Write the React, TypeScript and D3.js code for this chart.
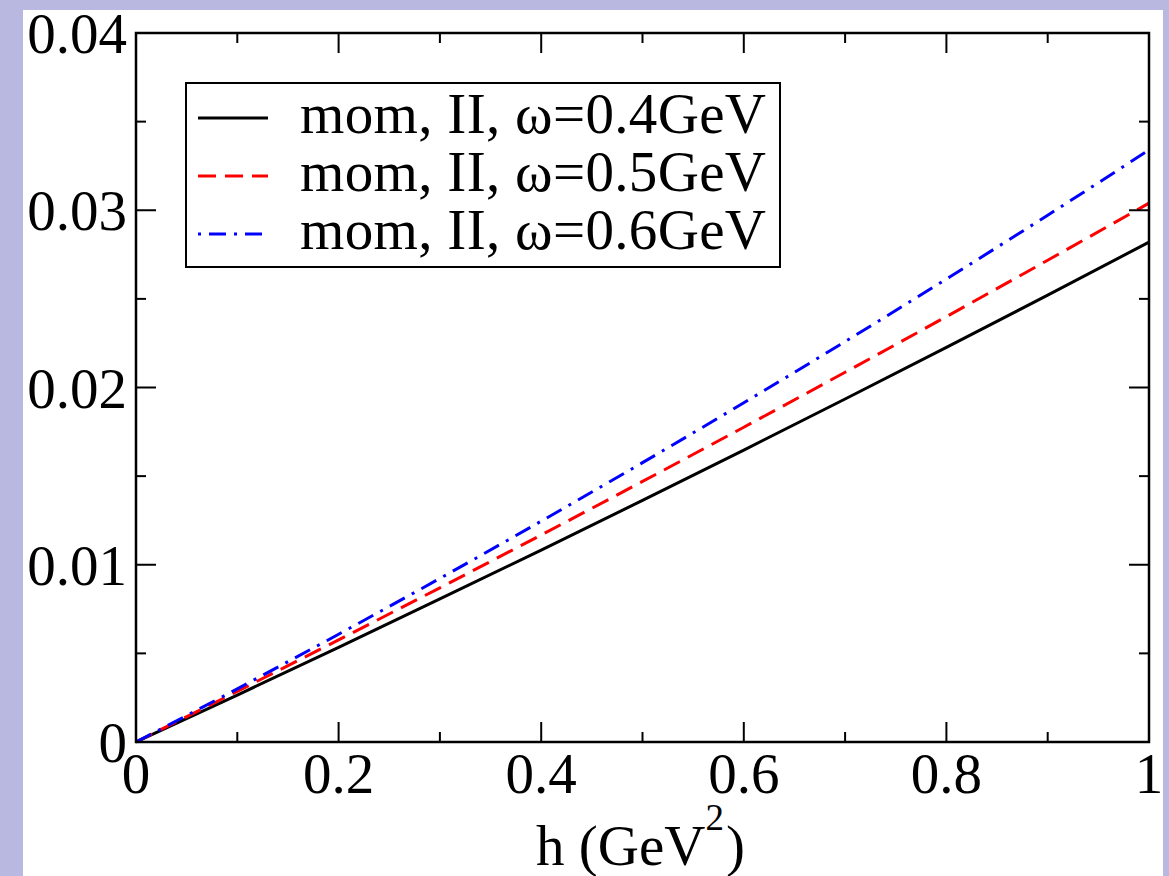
import { useMemo } from 'react';
import * as d3 from 'd3';

// ── data ─────────────────────────────────────────────────────────────────────
const H_VALUES = [0, 0.1, 0.2, 0.3, 0.4, 0.5, 0.6, 0.7, 0.8, 0.9, 1.0];
const OMEGA_04 = [0, 0.00265, 0.00534, 0.00807, 0.01083, 0.01363, 0.01647, 0.01935, 0.02226, 0.02521, 0.0282];
const OMEGA_05 = [0, 0.00286, 0.00576, 0.00870, 0.01168, 0.01470, 0.01776, 0.02086, 0.02400, 0.02718, 0.0304];
const OMEGA_06 = [0, 0.00300, 0.00608, 0.00923, 0.01246, 0.01576, 0.01914, 0.02259, 0.02612, 0.02972, 0.0334];

const SERIES_LABELS = ['mom, II, ω=0.4GeV', 'mom, II, ω=0.5GeV', 'mom, II, ω=0.6GeV'];
const X_TICKS = [0, 0.2, 0.4, 0.6, 0.8, 1];
const X_TICK_LABELS = ['0', '0.2', '0.4', '0.6', '0.8', '1'];
const Y_TICKS = [0, 0.01, 0.02, 0.03, 0.04];
const Y_TICK_LABELS = ['0', '0.01', '0.02', '0.03', '0.04'];
const X_MINOR = [0.1, 0.3, 0.5, 0.7, 0.9];
const Y_MINOR = [0.005, 0.015, 0.025, 0.035];

const STYLES = [
  { color: '#000000', dash: null },
  { color: '#ff0000', dash: '18,9' },
  { color: '#0000ff', dash: '17,8,3,8' },
];

const W = 1169, H = 876;
const PLOT = { left: 136, right: 1149, top: 33, bottom: 742 };
const FONT = '"Liberation Serif", "Times New Roman", serif';
const FS = 57;

export default function App() {
  const x = useMemo(() => d3.scaleLinear().domain([0, 1]).range([PLOT.left, PLOT.right]), []);
  const y = useMemo(() => d3.scaleLinear().domain([0, 0.04]).range([PLOT.bottom, PLOT.top]), []);

  const series = [OMEGA_04, OMEGA_05, OMEGA_06];
  const line = d3.line<number>().x((_, i) => x(H_VALUES[i])).y(d => y(d)).curve(d3.curveMonotoneX);

  const majorLen = 20, minorLen = 10;

  return (
    <svg width={W} height={H} viewBox={`0 0 ${W} ${H}`}
      style={{ position: 'absolute', left: 0, top: 0, display: 'block' }}>
      <rect x={0} y={0} width={W} height={H} fill="#b8b8e0" />
      <rect x={23} y={10} width={1140} height={H - 10} fill="#ffffff" />

      {/* curves */}
      <g fill="none" strokeWidth={3}>
        {series.map((s, i) => (
          <path key={i} d={line(s) || ''} stroke={STYLES[i].color}
            strokeDasharray={STYLES[i].dash || undefined} />
        ))}
      </g>

      {/* ticks, inward on all four sides */}
      <g stroke="#000" strokeWidth={2}>
        {X_TICKS.map(t => (
          <g key={`xm${t}`}>
            <line x1={x(t)} x2={x(t)} y1={PLOT.bottom} y2={PLOT.bottom - majorLen} />
            <line x1={x(t)} x2={x(t)} y1={PLOT.top} y2={PLOT.top + majorLen} />
          </g>
        ))}
        {X_MINOR.map(t => (
          <g key={`xn${t}`}>
            <line x1={x(t)} x2={x(t)} y1={PLOT.bottom} y2={PLOT.bottom - minorLen} />
            <line x1={x(t)} x2={x(t)} y1={PLOT.top} y2={PLOT.top + minorLen} />
          </g>
        ))}
        {Y_TICKS.map(t => (
          <g key={`ym${t}`}>
            <line x1={PLOT.left} x2={PLOT.left + majorLen} y1={y(t)} y2={y(t)} />
            <line x1={PLOT.right} x2={PLOT.right - majorLen} y1={y(t)} y2={y(t)} />
          </g>
        ))}
        {Y_MINOR.map(t => (
          <g key={`yn${t}`}>
            <line x1={PLOT.left} x2={PLOT.left + minorLen} y1={y(t)} y2={y(t)} />
            <line x1={PLOT.right} x2={PLOT.right - minorLen} y1={y(t)} y2={y(t)} />
          </g>
        ))}
      </g>

      {/* frame */}
      <rect x={PLOT.left} y={PLOT.top} width={PLOT.right - PLOT.left} height={PLOT.bottom - PLOT.top}
        fill="none" stroke="#000" strokeWidth={2.5} />

      {/* tick labels */}
      <g fontFamily={FONT} fontSize={FS} fill="#000">
        {X_TICKS.map((t, i) => (
          <text key={`xl${t}`} x={x(t)} y={PLOT.bottom + 51} textAnchor="middle">{X_TICK_LABELS[i]}</text>
        ))}
        {Y_TICKS.map((t, i) => (
          <text key={`yl${t}`} x={PLOT.left - 9} y={y(t) + 20} textAnchor="end">{Y_TICK_LABELS[i]}</text>
        ))}
      </g>

      {/* axis title */}
      <text x={x(0.5) - 2} y={865} textAnchor="middle" fontFamily={FONT} fontSize={FS} fill="#000">
        h (GeV<tspan dy={-35} fontSize={37}>2</tspan><tspan dy={35} dx={2}>)</tspan>
      </text>

      {/* legend */}
      <g>
        <rect x={186} y={83} width={594} height={184} fill="#fff" stroke="#000" strokeWidth={2} />
        {SERIES_LABELS.map((lab, i) => {
          const cy = 118 + i * 58;
          return (
            <g key={lab}>
              <line x1={198} x2={268} y1={cy} y2={cy} stroke={STYLES[i].color} strokeWidth={3}
                strokeDasharray={i === 2 ? '3,8,17,8' : (STYLES[i].dash || undefined)} />
              <text x={300} y={cy + 15} fontFamily={FONT} fontSize={FS} fill="#000"
                textLength={466} lengthAdjust="spacing">{lab}</text>
            </g>
          );
        })}
      </g>
    </svg>
  );
}
